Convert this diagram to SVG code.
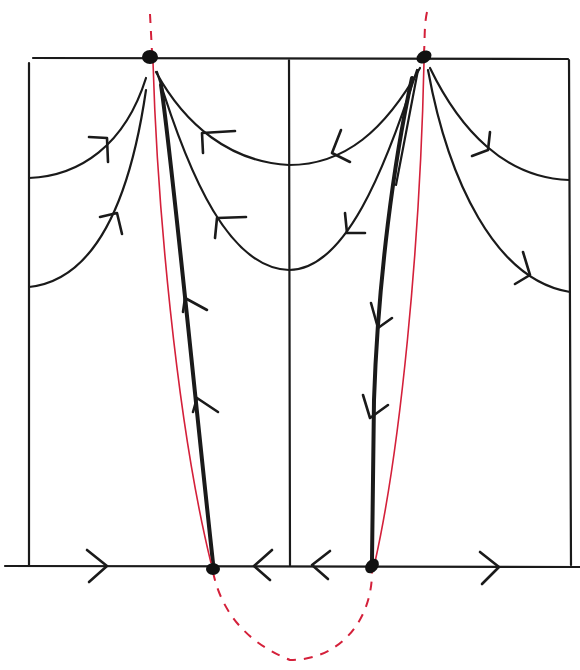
<svg xmlns="http://www.w3.org/2000/svg" width="580" height="670" viewBox="0 0 580 670">
<style>
.ln{fill:none;stroke:#1a1a1a;stroke-width:2.2;stroke-linecap:round;stroke-linejoin:round}
.th{fill:none;stroke:#1a1a1a;stroke-width:4;stroke-linecap:round}
.ar{fill:none;stroke:#1a1a1a;stroke-width:2.6;stroke-linecap:round;stroke-linejoin:round}
.red{fill:none;stroke:#d4203a;stroke-width:1.6}
.rdash{fill:none;stroke:#d4203a;stroke-width:2;stroke-dasharray:9 8}
.dot{fill:#111}
</style>
<rect width="580" height="670" fill="#fff"/>
<g id="frame">
<path class="ln" d="M33 58 L568 59 M29 63 L29 565 M569 60 L571 565 M289 60 L290 565 M5 566 L580 567"/>
</g>
<g id="connectors">
<!-- left fan -->
<path class="ln" d="M29 178 C80 176 125 145 146 78"/>
<path class="ln" d="M29 287 C95 280 130 200 146 90"/>
<path class="ln" d="M156 72 C185 125 230 162 289 165 C345 165 385 130 420 68"/>
<path class="ln" d="M157 72 C190 180 230 268 289 270 C345 270 385 170 417 70"/>
<!-- right fan -->
<path class="ln" d="M430 68 C460 130 505 178 569 180"/>
<path class="ln" d="M428 70 C448 180 495 280 570 292"/>
<!-- thick manifolds -->
<path class="th" d="M161 85 C172 160 192 370 213 563"/>
<path class="ln" d="M418 70 C410 110 403 150 396 185"/>
<path class="th" d="M412 78 C394 160 378 280 374 400 L372 560"/>
<!-- red curves -->
<path class="red" d="M153 62 C157 200 176 420 211 563"/>
<path class="red" d="M424 62 C420 250 400 450 375 562"/>
<path class="rdash" d="M150 14 L152 52"/>
<path class="rdash" d="M427 12 C424 25 425 40 424 52"/>
<path class="rdash" d="M213 572 C220 605 240 640 290 660 C340 660 372 620 372 572"/>
<!-- arrowheads -->
<path class="ar" d="M89 137 L107 138 L108 162"/>
<path class="ar" d="M100 217 L117 213 L122 234"/>
<path class="ar" d="M235 131 L202 133 L203 153"/>
<path class="ar" d="M246 217 L217 218 L215 238"/>
<path class="ar" d="M341 130 L332 153 L350 162"/>
<path class="ar" d="M345 213 L347 233 L365 233"/>
<path class="ar" d="M490 132 L488 150 L472 156"/>
<path class="ar" d="M523 252 L530 275 L515 284"/>
<path class="ar" d="M183 312 L185 298 L207 310"/>
<path class="ar" d="M193 412 L197 398 L218 412"/>
<path class="ar" d="M371 303 L378 328 L392 318"/>
<path class="ar" d="M363 395 L370 418 L388 405"/>
<path class="ar" d="M87 550 L107 566 L89 582"/>
<path class="ar" d="M272 550 L254 566 L270 580"/>
<path class="ar" d="M330 551 L312 565 L328 579"/>
<path class="ar" d="M480 552 L499 567 L482 584"/>
</g>
<g id="dots">
<ellipse class="dot" cx="150" cy="57" rx="8" ry="7"/>
<ellipse class="dot" cx="424" cy="57" rx="8" ry="6" transform="rotate(-30 424 57)"/>
<ellipse class="dot" cx="213" cy="569" rx="7" ry="6"/>
<ellipse class="dot" cx="372" cy="566" rx="6" ry="8" transform="rotate(40 372 566)"/>
</g>
</svg>
